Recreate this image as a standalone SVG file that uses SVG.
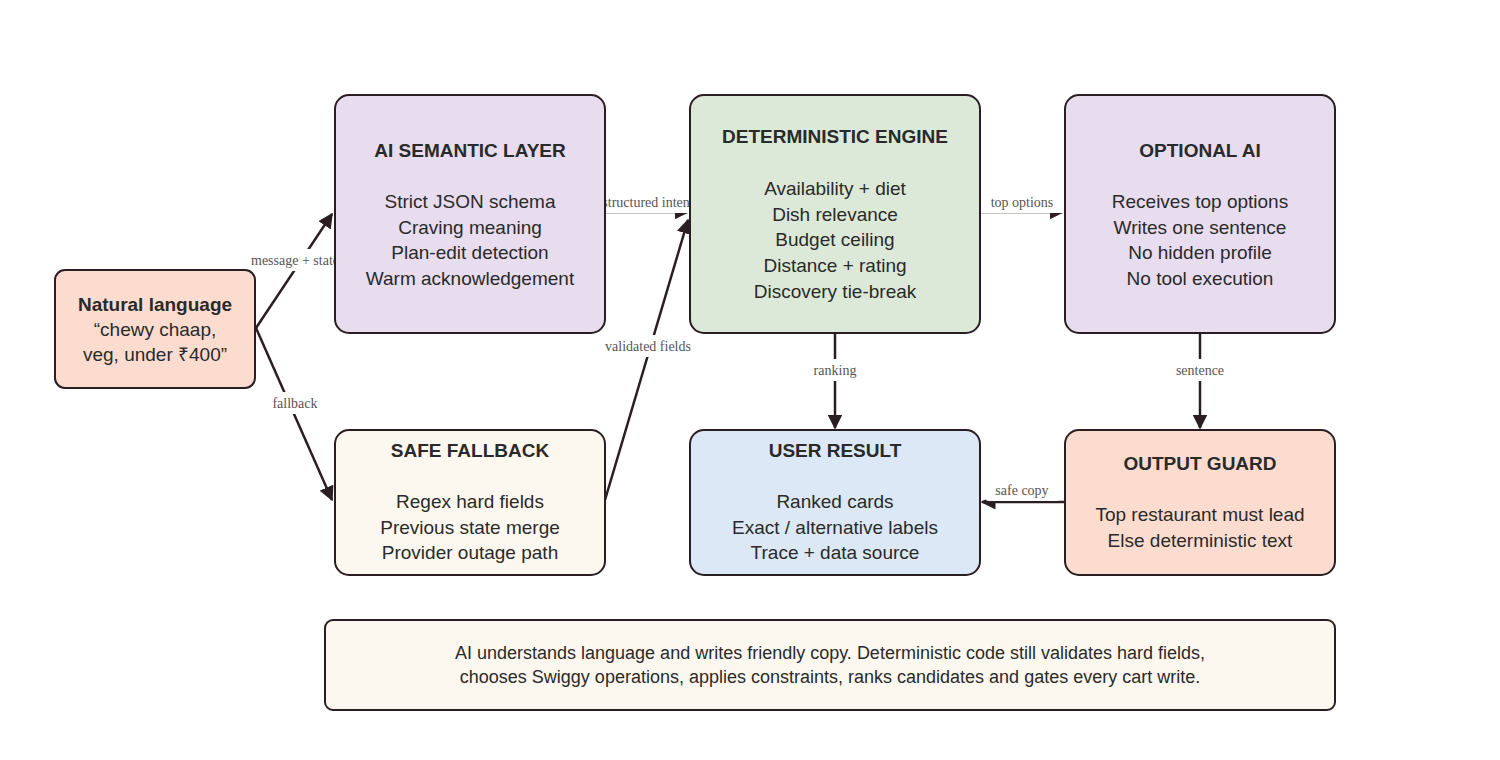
<svg xmlns="http://www.w3.org/2000/svg" width="1500" height="760" viewBox="0 0 1500 760">
<defs>
<marker id="ah" viewBox="0 0 10 10" refX="9" refY="5" markerWidth="6" markerHeight="6" orient="auto-start-reverse"><path d="M0,0 L10,5 L0,10 z" fill="#2a1e22"/></marker>
<style>
.n{stroke:#2a1e22;stroke-width:2}
.t{font-family:"Liberation Sans",Arial,sans-serif;font-size:19px;fill:#2a2a2a;text-anchor:middle}
.b{font-weight:bold}
.e{stroke:#2a1e22;stroke-width:2.5;fill:none;marker-end:url(#ah)}
.l{font-family:"Liberation Serif",serif;font-size:14px;fill:#555;text-anchor:middle}
.lb{fill:#fff}
</style>
</defs>
<rect width="1500" height="760" fill="#fff"/>
<g id="connectors">
<line class="e" x1="256" y1="328" x2="332" y2="214"/>
<line class="e" x1="256" y1="328" x2="332" y2="500"/>
<line class="e" x1="605" y1="500" x2="688" y2="220"/>
<line class="e" x1="605" y1="212" x2="688" y2="212"/>
<line class="e" x1="980" y1="212" x2="1063" y2="212"/>
<line class="e" x1="835" y1="333" x2="835" y2="428"/>
<line class="e" x1="1200" y1="333" x2="1200" y2="428"/>
<line class="e" x1="1065" y1="502" x2="982" y2="502"/>
<rect class="lb" x="242" y="249" width="106" height="22" rx="4"/><text class="l" x="295" y="265">message + state</text>
<rect class="lb" x="266" y="392" width="58" height="22" rx="4"/><text class="l" x="295" y="408">fallback</text>
<rect class="lb" x="567" y="191" width="161" height="22" rx="4"/><text class="l" x="648" y="207">structured intent</text>
<rect class="lb" x="596" y="335" width="104" height="22" rx="4"/><text class="l" x="648" y="351">validated fields</text>
<rect class="lb" x="970" y="191" width="105" height="22" rx="4"/><text class="l" x="1022" y="207">top options</text>
<rect class="lb" x="806" y="359" width="58" height="22" rx="4"/><text class="l" x="835" y="375">ranking</text>
<rect class="lb" x="1166" y="359" width="68" height="22" rx="4"/><text class="l" x="1200" y="375">sentence</text>
<rect class="lb" x="985" y="479" width="75" height="22" rx="4"/><text class="l" x="1022" y="495">safe copy</text>
</g>
<g id="natural"><rect class="n" x="55" y="270" width="200" height="118" rx="10" fill="#fddcd0"/>
<text class="t b" x="155" y="311">Natural language</text><text class="t" x="155" y="336">“chewy chaap,</text><text class="t" x="155" y="361">veg, under ₹400”</text></g>
<g id="ai"><rect class="n" x="335" y="95" width="270" height="238" rx="14" fill="#e8dcef"/>
<text class="t b" x="470" y="157">AI SEMANTIC LAYER</text><text class="t" x="470" y="208">Strict JSON schema</text><text class="t" x="470" y="234">Craving meaning</text><text class="t" x="470" y="259">Plan-edit detection</text><text class="t" x="470" y="285">Warm acknowledgement</text></g>
<g id="det"><rect class="n" x="690" y="95" width="290" height="238" rx="14" fill="#dde9d8"/>
<text class="t b" x="835" y="143">DETERMINISTIC ENGINE</text><text class="t" x="835" y="195">Availability + diet</text><text class="t" x="835" y="221">Dish relevance</text><text class="t" x="835" y="246">Budget ceiling</text><text class="t" x="835" y="272">Distance + rating</text><text class="t" x="835" y="298">Discovery tie-break</text></g>
<g id="opt"><rect class="n" x="1065" y="95" width="270" height="238" rx="14" fill="#e8dcef"/>
<text class="t b" x="1200" y="157">OPTIONAL AI</text><text class="t" x="1200" y="208">Receives top options</text><text class="t" x="1200" y="234">Writes one sentence</text><text class="t" x="1200" y="259">No hidden profile</text><text class="t" x="1200" y="285">No tool execution</text></g>
<g id="fallback"><rect class="n" x="335" y="430" width="270" height="145" rx="14" fill="#fdf8ef"/>
<text class="t b" x="470" y="457">SAFE FALLBACK</text><text class="t" x="470" y="508">Regex hard fields</text><text class="t" x="470" y="534">Previous state merge</text><text class="t" x="470" y="559">Provider outage path</text></g>
<g id="result"><rect class="n" x="690" y="430" width="290" height="145" rx="14" fill="#dce8f5"/>
<text class="t b" x="835" y="457">USER RESULT</text><text class="t" x="835" y="508">Ranked cards</text><text class="t" x="835" y="534">Exact / alternative labels</text><text class="t" x="835" y="559">Trace + data source</text></g>
<g id="guard"><rect class="n" x="1065" y="430" width="270" height="145" rx="14" fill="#fddcd0"/>
<text class="t b" x="1200" y="470">OUTPUT GUARD</text><text class="t" x="1200" y="521">Top restaurant must lead</text><text class="t" x="1200" y="547">Else deterministic text</text></g>
<g id="note"><rect class="n" x="325" y="620" width="1010" height="90" rx="8" fill="#fdf8ef"/>
<text class="t" x="830" y="659" style="font-size:18px">AI understands language and writes friendly copy. Deterministic code still validates hard fields,</text>
<text class="t" x="830" y="683" style="font-size:18px">chooses Swiggy operations, applies constraints, ranks candidates and gates every cart write.</text></g>
</svg>
